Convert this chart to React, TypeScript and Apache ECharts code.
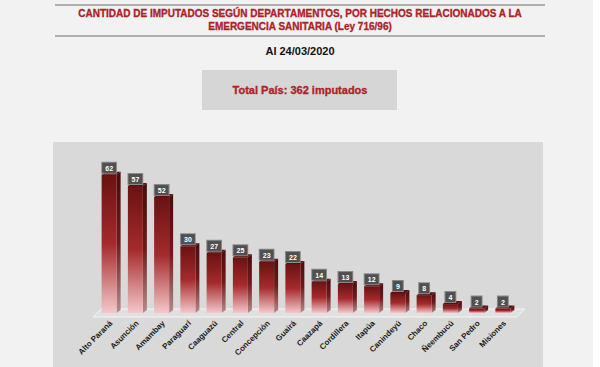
import React, { useEffect, useRef } from "react";
import * as echarts from "echarts";

const categories = [
  "Alto Paraná", "Asunción", "Amambay", "Paraguarí", "Caaguazú", "Central",
  "Concepción", "Guairá", "Caazapá", "Cordillera", "Itapúa", "Canindeyú",
  "Chaco", "Ñeembucú", "San Pedro", "Misiones",
];
const values = [62, 57, 52, 30, 27, 25, 23, 22, 14, 13, 12, 9, 8, 4, 2, 2];

const titleLine1 = "CANTIDAD DE IMPUTADOS SEGÚN DEPARTAMENTOS, POR HECHOS RELACIONADOS A LA";
const titleLine2 = "EMERGENCIA SANITARIA (Ley 716/96)";
const dateText = "Al 24/03/2020";
const totalText = "Total País: 362 imputados";

const FONT = "'Liberation Sans', Arial, sans-serif";
const RED = "#ad2127";

export default function App() {
  const ref = useRef<HTMLDivElement>(null);

  useEffect(() => {
    if (!ref.current) return;
    const chart = echarts.init(ref.current, undefined, { renderer: "svg" });

    const frontGrad = new echarts.graphic.LinearGradient(0, 0, 0, 1, [
      { offset: 0, color: "#6a1212" },
      { offset: 0.5, color: "#a52a2c" },
      { offset: 1, color: "#f4c8ca" },
    ]);
    const sideGrad = new echarts.graphic.LinearGradient(0, 0, 0, 1, [
      { offset: 0, color: "#4a0b0b" },
      { offset: 0.5, color: "#6e1a1a" },
      { offset: 1, color: "#b88a8a" },
    ]);

    const option: any = {
      animation: false,
      backgroundColor: "#f2f2f2",
      graphic: [
        { type: "rect", z: -10, shape: { x: 53, y: 142, width: 490, height: 230 }, style: { fill: "#d9d9d9" } },
        { type: "rect", z: -10, shape: { x: 593, y: 0, width: 7, height: 367 }, style: { fill: "#ffffff" } },
        { type: "line", shape: { x1: 55, y1: 5, x2: 545, y2: 5 }, style: { stroke: "#9a9a9a", lineWidth: 1.5 } },
        { type: "line", shape: { x1: 55, y1: 36, x2: 545, y2: 36 }, style: { stroke: "#9a9a9a", lineWidth: 1.5 } },
        {
          type: "text", x: 300, y: 13.5,
          style: { text: titleLine1, fill: RED, font: `bold 10px ${FONT}`, align: "center", verticalAlign: "middle", stroke: RED, lineWidth: 0.3 },
        },
        {
          type: "text", x: 300, y: 26.5,
          style: { text: titleLine2, fill: RED, font: `bold 10px ${FONT}`, align: "center", verticalAlign: "middle", stroke: RED, lineWidth: 0.3 },
        },
        {
          type: "text", x: 300, y: 51,
          style: { text: dateText, fill: "#111", font: `bold 11px ${FONT}`, align: "center", verticalAlign: "middle" },
        },
        { type: "rect", shape: { x: 202, y: 70, width: 195, height: 40 }, style: { fill: "#d6d6d6" } },
        {
          type: "text", x: 300, y: 90,
          style: { text: totalText, fill: RED, font: `bold 11px ${FONT}`, align: "center", verticalAlign: "middle", stroke: RED, lineWidth: 0.3 },
        },
      ],
      grid: { left: 98, right: 82, top: 157, bottom: 54 },
      xAxis: {
        type: "category",
        data: categories,
        axisLine: { show: false },
        axisTick: { show: true, length: 3, lineStyle: { color: "#b8b8b8" } },
        axisLabel: {
          rotate: 45,
          interval: 0,
          margin: 9,
          color: "#1a1a1a",
          fontSize: 8,
          fontWeight: "bold",
          fontFamily: FONT,
        },
      },
      yAxis: {
        type: "value",
        min: 0,
        max: 70,
        show: false,
        splitLine: { show: false },
      },
      series: [
        {
          type: "custom",
          z: 1,
          data: [[0, 0]],
          renderItem: (params: any, api: any) => {
            const a = api.coord([0, 0]);
            const b = api.coord([categories.length - 1, 0]);
            const y = a[1];
            return {
              type: "polygon",
              shape: {
                points: [
                  [a[0] - 18, y + 4],
                  [b[0] + 12, y + 4],
                  [b[0] + 20, y - 4],
                  [a[0] - 10, y - 4],
                ],
              },
              style: { fill: "#e0e0e0", stroke: "#f6f6f6", lineWidth: 1 },
            };
          },
        },
        {
          type: "custom",
          z: 2,
          data: values.map((v, i) => [i, v]),
          renderItem: (params: any, api: any) => {
            const i = api.value(0);
            const v = api.value(1);
            const top = api.coord([i, v]);
            const base = api.coord([i, 0]);
            const c = top[0];
            const fw = 15, d = 4, dy = 3;
            const x0 = c - 9.5, x1 = x0 + fw;
            const yT = top[1], yB = base[1];
            return {
              type: "group",
              children: [
                {
                  type: "polygon",
                  shape: { points: [[x1, yT], [x1 + d, yT - dy], [x1 + d, yB - dy], [x1, yB]] },
                  style: { fill: sideGrad },
                },
                {
                  type: "rect",
                  shape: { x: x0, y: yT, width: fw, height: Math.max(yB - yT, 1) },
                  style: { fill: frontGrad },
                },
                {
                  type: "polygon",
                  shape: { points: [[x0, yT], [x0 + d, yT - dy], [x1 + d, yT - dy], [x1, yT]] },
                  style: { fill: "#5a0e0e" },
                },
                {
                  type: "text",
                  x: x0 + fw / 2,
                  y: yT - 2,
                  style: {
                    text: String(v),
                    fill: "#ffffff",
                    font: `bold 7px ${FONT}`,
                    align: "center",
                    verticalAlign: "bottom",
                    backgroundColor: "#505050",
                    borderColor: "#8a8a8a",
                    borderWidth: 1,
                    padding: [2, 3, 1, 3],
                  },
                },
              ],
            };
          },
        },
      ],
    };

    chart.setOption(option);
    return () => chart.dispose();
  }, []);

  return (
    <div
      ref={ref}
      style={{ position: "fixed", left: 0, top: 0, width: 600, height: 367 }}
    />
  );
}
